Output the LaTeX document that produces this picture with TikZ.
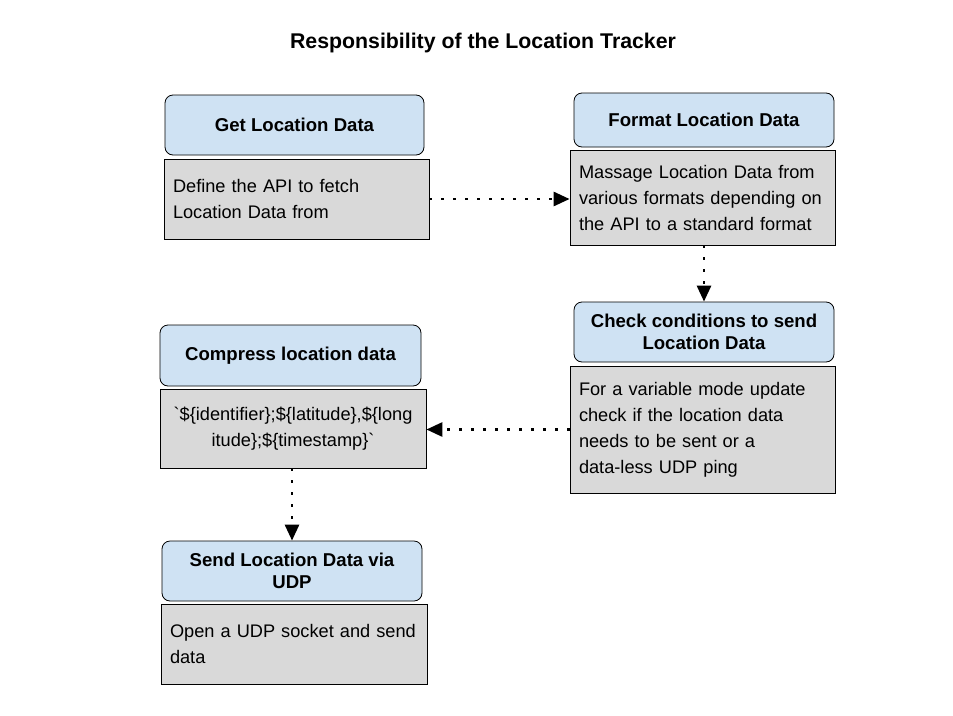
\documentclass[tikz,border=0pt]{standalone}
\usepackage{fontspec}
\newfontfamily\arialf{Liberation Sans}
\usetikzlibrary{arrows.meta}
\definecolor{hdr}{HTML}{CFE2F3}
\definecolor{bod}{HTML}{D9D9D9}
\begin{document}
\begin{tikzpicture}[x=1pt,y=-1pt,
 hdrbox/.style={draw, fill=hdr, rounded corners=8pt, line width=0.8pt, inner sep=0pt, align=center,
   font=\arialf\bfseries\fontsize{18.6}{22}\selectfont},
 bodbox/.style={draw, fill=bod, line width=0.8pt, inner sep=0pt, align=left,
   font=\arialf\fontsize{18.2}{26}\selectfont},
 conn/.style={line width=2.8pt, dash pattern=on 2.8pt off 9.2pt, -{Triangle[length=16pt,width=14pt]}}]
\useasboundingbox (0,0) rectangle (953,715);
\fill[white] (0,0) rectangle (953,715);
\node[font=\arialf\bfseries\fontsize{21.3}{24}\selectfont] (title) at (483,43) {Responsibility of the Location Tracker};

\node[hdrbox, minimum width=259pt, minimum height=60pt] (h1) at (294.5,125) {Get Location Data};
\node[bodbox, minimum width=265pt, minimum height=80pt, text width=247pt] (b1) at (296.5,199) {Define the API to fetch\\Location Data from};

\node[hdrbox, minimum width=260pt, minimum height=54pt] (h2) at (704,120) {Format Location Data};
\node[bodbox, minimum width=265pt, minimum height=95pt, text width=247pt] (b2) at (702.5,197.5) {Massage Location Data from\\various formats depending on\\the API to a standard format};

\node[hdrbox, minimum width=260pt, minimum height=60pt] (h3) at (704,332) {Check conditions to send\\Location Data};
\node[bodbox, minimum width=265pt, minimum height=127pt, text width=247pt] (b3) at (702.5,429.5) {For a variable mode update\\check if the location data\\needs to be sent or a\\data-less UDP ping};

\node[hdrbox, minimum width=261pt, minimum height=61pt] (h4) at (290.5,355.5) {Compress location data};
\node[bodbox, align=center, minimum width=266pt, minimum height=79pt, text width=250pt] (b4) at (293,428.5) {`\$\{identifier\};\$\{latitude\},\$\{long\\itude\};\$\{timestamp\}`};

\node[hdrbox, minimum width=260pt, minimum height=60pt] (h5) at (292,571) {Send Location Data via\\UDP};
\node[bodbox, minimum width=266pt, minimum height=80pt, text width=248pt] (b5) at (294,644) {Open a UDP socket and send\\data};

\draw[conn] (b1.east) -- (b1.east -| b2.west);
\draw[conn] (b2.south -| h3.north) -- (h3.north);
\draw[conn] (b3.west) -- (b3.west -| b4.east);
\draw[conn] (b4.south -| h5.north) -- (h5.north);
\end{tikzpicture}
\end{document}
